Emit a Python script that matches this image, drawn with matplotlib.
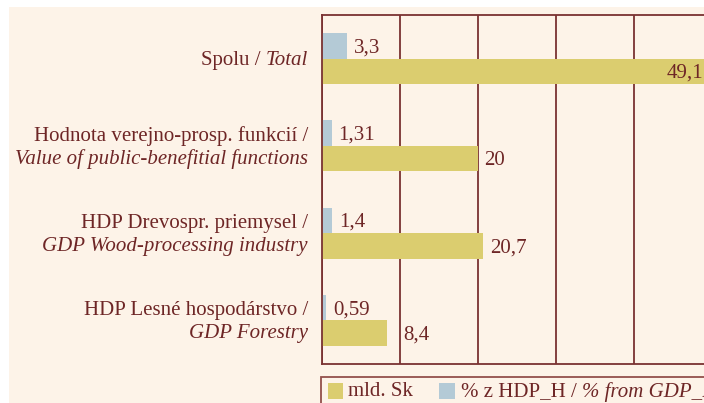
import matplotlib
matplotlib.use("Agg")
import matplotlib.pyplot as plt
from matplotlib.patches import Rectangle

# ── data ──────────────────────────────────────────────────────────────────────
labels_sk = ["Spolu /", "Hodnota verejno-prosp. funkcií /",
             "HDP Drevospr. priemysel /", "HDP Lesné hospodárstvo /"]
labels_en = ["Total", "Value of public-benefitial functions",
             "GDP Wood-processing industry", "GDP Forestry"]
mld_sk = [49.1, 20, 20.7, 8.4]
pct_hdp = [3.3, 1.31, 1.4, 0.59]
mld_txt = ["49,1", "20", "20,7", "8,4"]
pct_txt = ["3,3", "1,31", "1,4", "0,59"]

BG = "#FDF3E8"
YELLOW = "#DBCD6F"
BLUE = "#B4CAD6"
INK = "#6E2626"
LINE = "#7A3232"
FONT = "Liberation Serif"
FS = 15
DY = -1.5  # small downward shift (points) so text sits visually centred

W, H = 704, 403
fig = plt.figure(figsize=(W / 100, H / 100), dpi=100)
fig.patch.set_facecolor("white")
fig.patches.append(Rectangle((9 / W, 0), 1, (H - 7) / H, transform=fig.transFigure,
                             facecolor=BG, edgecolor="none", zorder=-1))

# plot area: left edge at 321.5 px, 7.8 px per unit, top 15 px, bottom 364 px
x0, top, bot = 321.5, 15, 364
ax = fig.add_axes([x0 / W, (H - bot) / H, 60 * 7.8 / W, (bot - top) / H])
ax.set_zorder(2)
ax.set_facecolor(BG)
ax.set_xlim(0, 60)
ax.set_ylim(3.5, -0.5)
ax.set_xticks(range(0, 61, 10))
ax.set_yticks([])
ax.tick_params(axis="x", length=0, labelbottom=False)
ax.grid(axis="x", color=LINE, lw=1.3)
ax.set_axisbelow(True)
for s in ax.spines.values():
    s.set_color(LINE)
    s.set_linewidth(1.3)

ypos = list(range(len(mld_sk)))
bh = 0.292
ax.barh([y - bh / 2 for y in ypos], pct_hdp, height=bh, color=BLUE, zorder=2)
ax.barh([y + bh / 2 for y in ypos], mld_sk, height=bh, color=YELLOW, zorder=2)

# value labels
for y, v, t in zip(ypos, pct_hdp, pct_txt):
    ax.annotate(t, (v, y - bh / 2), xytext=(5, DY), textcoords="offset points",
                ha="left", va="center", fontsize=FS, family=FONT, color=INK, zorder=3)
for y, v, t in zip(ypos, mld_sk, mld_txt):
    if v > 45:
        ax.annotate(t, (v, y + bh / 2), xytext=(-1, DY), textcoords="offset points",
                    ha="right", va="center", fontsize=FS, family=FONT, color=INK, zorder=3)
    else:
        dx = 12 if v < 10 else 5
        ax.annotate(t, (v, y + bh / 2), xytext=(dx, DY), textcoords="offset points",
                    ha="left", va="center", fontsize=FS, family=FONT, color=INK, zorder=3)

# category labels (slovak regular + english italic)
xr = 308 / W
for i, (sk, en) in enumerate(zip(labels_sk, labels_en)):
    yc = (ax.transData.transform((0, i))[1] + DY * 100 / 72) / H
    if i == 0:
        t_en = fig.text(xr, yc, en, ha="right", va="center", fontsize=FS,
                        family=FONT, style="italic", color=INK)
        fig.canvas.draw()
        ax.annotate(sk, xy=(0, 0), xycoords=t_en, xytext=(-4, 0),
                    textcoords="offset points", ha="right", va="bottom",
                    fontsize=FS, family=FONT, color=INK, annotation_clip=False)
    else:
        fig.text(xr, yc + 12 / H, sk, ha="right", va="center", fontsize=FS,
                 family=FONT, color=INK)
        fig.text(xr, yc - 11 / H, en, ha="right", va="center", fontsize=FS,
                 family=FONT, style="italic", color=INK)

# legend (cut off at the image edge like the source)
fig.patches.append(Rectangle((321 / W, -10 / H), 500 / W, (H - 377 + 10) / H,
                             transform=fig.transFigure, facecolor=BG,
                             edgecolor="#93504B", lw=1.3, zorder=1))
fig.patches.append(Rectangle((328 / W, (H - 399) / H), 15 / W, 16 / H,
                             transform=fig.transFigure, facecolor=YELLOW,
                             edgecolor="none", zorder=2))
fig.patches.append(Rectangle((439 / W, (H - 399) / H), 16 / W, 16 / H,
                             transform=fig.transFigure, facecolor=BLUE,
                             edgecolor="none", zorder=2))
fig.text(348 / W, (H - 392) / H, "mld. Sk", ha="left", va="center",
         fontsize=FS, family=FONT, color=INK)
t_leg = fig.text(461 / W, (H - 392) / H, "% z HDP_H /", ha="left", va="center",
                 fontsize=FS, family=FONT, color=INK)
fig.canvas.draw()
ax.annotate("% from GDP_B", xy=(1, 0), xycoords=t_leg, xytext=(4, 0),
            textcoords="offset points", ha="left", va="bottom",
            fontsize=FS, family=FONT, style="italic", color=INK,
            annotation_clip=False)

fig.savefig("out.png", dpi=100, facecolor="white")
